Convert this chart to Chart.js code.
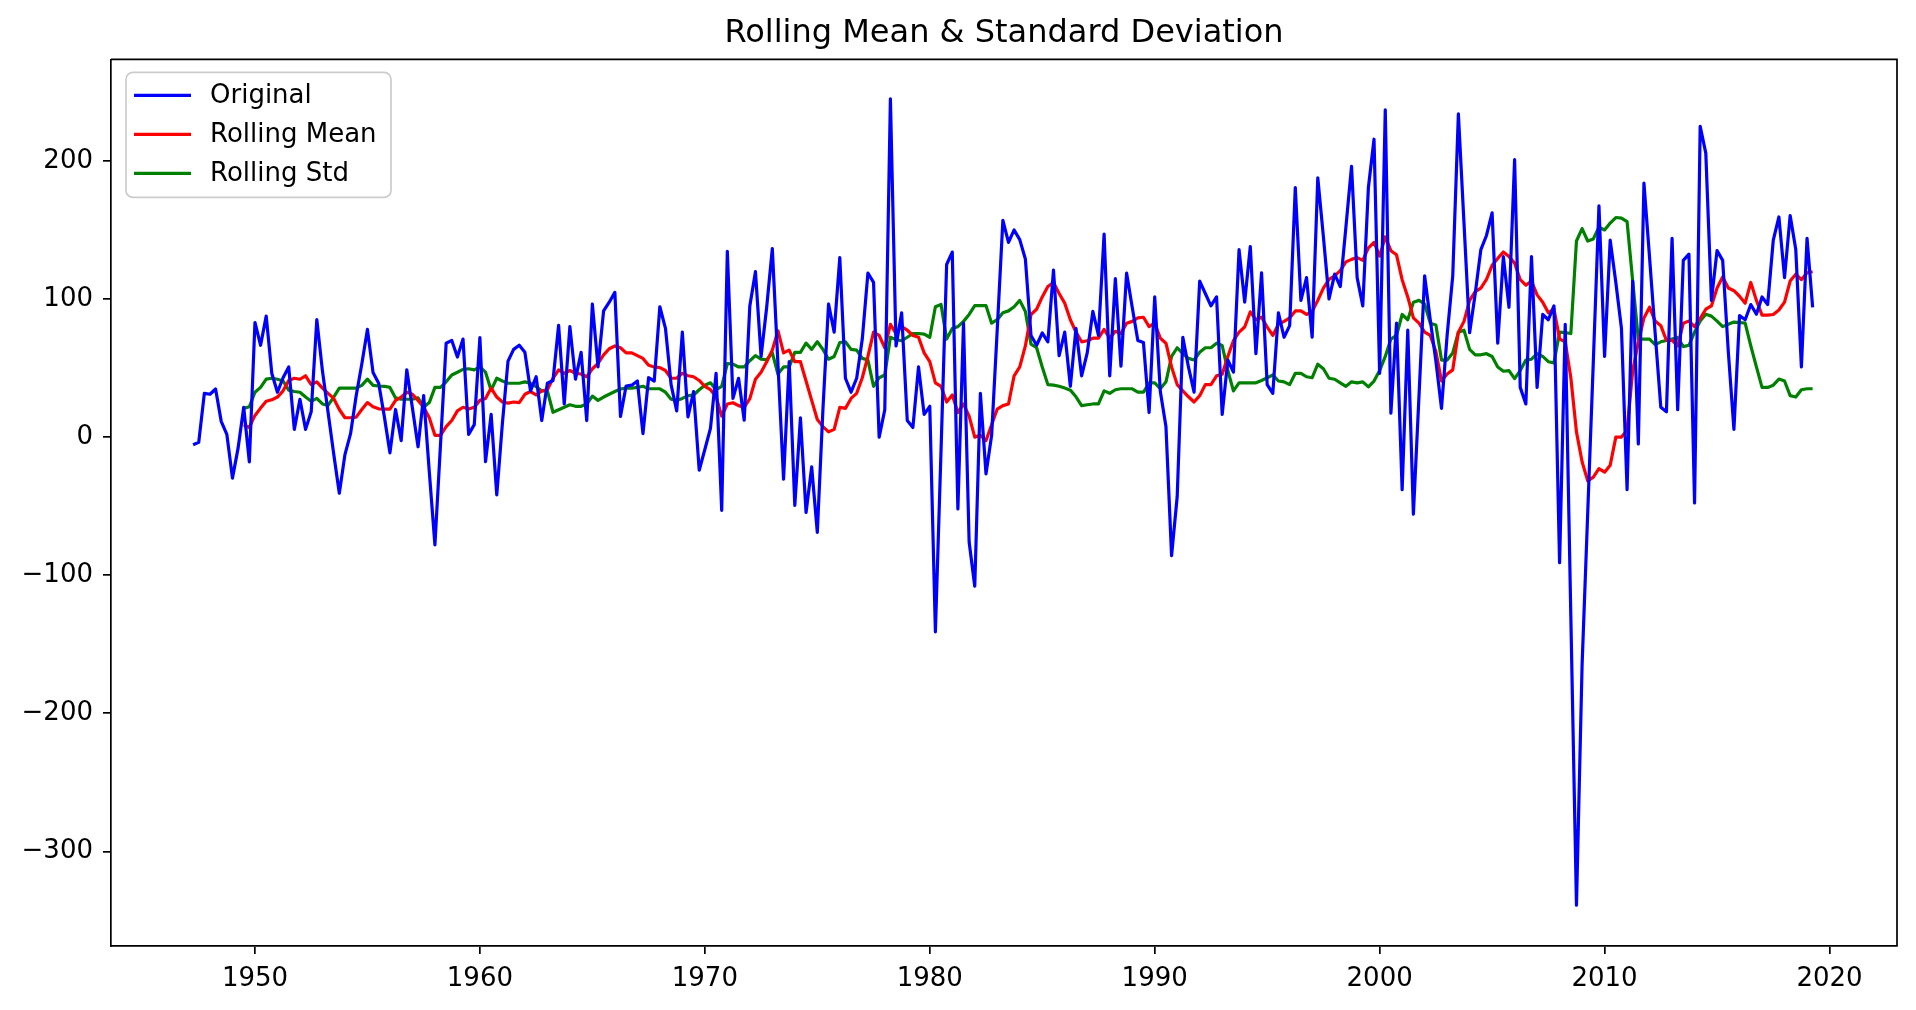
<!DOCTYPE html>
<html>
<head>
<meta charset="utf-8">
<script src="https://cdn.jsdelivr.net/npm/chart.js@4.4.1/dist/chart.umd.min.js"></script>
<style>
html,body{margin:0;padding:0;background:#fff;overflow:hidden;}
canvas{display:block;}
</style>
</head>
<body>
<canvas id="c" width="1916" height="1010"></canvas>
<script>
// Quarterly series, first quarter 1947.25, step a quarter of a year
const START_YEAR = 1947.25;
const STEP = 0.25;
const ROLL_START_INDEX = 9;

const original = [
-5.6,-3.8,31.7,31,34.8,11.4,2,-29.7,-8,21.6,
-18,83,66.5,87.6,46,32.5,43,50.8,5.6,27.4,
5.6,18.3,85,48,18,-12,-40.6,-12.7,2.5,30,
53,78,46.7,39,15,-11.4,20,-2.5,48.7,21,
-7,30,-25,-78,-5,68,70,58,71,2,
9,72,-17.8,16.5,-41.9,10,55,63.5,66.5,61.4,
33.5,43.7,12,39,41,81,24,80,42,61.4,
12,96.4,50.8,91.4,97.7,104.8,15,37,37.6,40.6,
2.5,43,40.6,94.4,78.7,38,19,76,14.7,33,
-24,-9,6.3,46.2,-53,134.5,28,42.6,12.2,95,
119.8,58.4,94,136.5,53,-30.5,54.6,-49.5,14,-54.6,
-21.6,-69,20,96.4,76,130,42.6,32.5,42.6,71,
118.8,112,0,19.8,245,66,90,12,7,50.8,
16.5,22.3,-141,-10,125,134,-52,82.5,-76,-108,
31.7,-26.6,1.3,78,157,141,150,143,129,73.6,
66.5,75.4,69,121,59,76,36.8,78.7,44.4,61,
91,73.6,147,44.4,114.7,51.3,118.8,94,70,68.5,
17.8,101.5,33,7.6,-85.8,-43,72.3,50.8,32.5,113,
104,95,101.5,16.5,55.8,47,135.8,97.7,138,60.4,
119,38,31.7,90,72.3,80.7,180.7,99,115.5,72.3,
187.8,145,100,118,109,152,196,115.5,95,180.7,
215.7,46.2,237,17.3,82.5,-38,77.4,-55.8,30,116.8,
85,55,20.8,73.6,116.8,234,155,75.6,104,135.8,
146,162.4,68,130.7,94,201,36,24,130.7,36,
88.8,85,95,-91,81.7,-130,-339,-165,-55,55,
167.5,58.4,142.6,112,78.7,-38,113,-5,184,130,
75,21.6,18.3,144,19.8,128,132.5,-47.7,225,205.6,
99,135,128,62,5.6,88,85,96,89,101.5,
96,142.6,159.4,115.5,160.4,135.8,50.8,144,94
];

const rollingMean = [
8.9,7,15.7,21,26,27,29,33.5,41,42.6,
41.9,44.4,38,40,35.5,31.7,28,20,14,14,
14.5,20,25,22,20.5,20.3,20.3,26.6,29,32.5,
31,26.6,21.6,14,1.3,1.3,7.6,12,19,21.6,
20.3,21.6,26.6,28,35.5,29,25.4,24.6,25.4,25,
31,33,30.5,33.5,34.3,42.6,48.7,46.2,48.2,46.2,
45.7,43.7,49.5,53.3,59.6,64,66,64.7,61,61,
59,57,52,50.8,50.3,48.2,42.6,42.6,46.2,44.4,
43.7,41,36.8,34.3,29.2,15.2,24,24.9,22.8,21.6,
27.9,41.9,47,54.6,63,77,61,63,54.6,54.6,
40.6,26.6,12.7,7.6,3.8,5.6,21.6,20.8,28,31.7,
43,58.4,76,73.6,64.7,81.7,74.9,80,77.4,73.6,
72.3,61,54.6,39.3,36.8,25.4,30.5,17.8,24.1,15.2,
0,1.3,-2.5,8.9,20.3,22.8,24,44.4,50.8,66,
88.8,92.6,101.5,109,112,104,97,85,76,69,
69.8,71.6,71.6,78,71.6,76.6,75,82.5,83.8,86.3,
86.8,80,82.5,71.6,68,50.8,38,33.5,29.2,25.4,
30,38,38,44.4,45.5,58.4,69.8,76,79.7,90.7,
85,86.8,79.7,73.6,81.7,83.8,86.3,91.4,91.4,88.8,
90.9,99,107.9,114.2,116.8,120.6,126.9,128.7,130,128,
137,141,131,145,135,132,114,101.5,86.3,82.5,
76,73.6,62,40.6,45.7,48.7,76,83.8,99,105.3,
107.9,114.2,124.4,129.4,134,130.7,126,114,110,113,
103,97.7,90,92.6,71,69,43,3.8,-17.8,-31.7,
-29,-22.8,-25.4,-20.3,0,0,5,48.2,68.5,86.3,
94,84,80.7,70,70,66,82.5,84,80,86,
92.6,95,108,116,108,106,102,97,112,99,
88.3,88.3,88.8,92,97.7,113,118,114,119,119.7
];

const rollingStd = [
20.8,22,32.5,36,42,42.6,41.9,40.6,34,33,
32.5,29,26,28,24,23,29,35.5,35.5,35.5,
35.5,37.5,42,37.5,37,36.8,36,28.4,27.4,27.4,
27.4,28.4,21.6,25,36,36,40,45,47,49,
49.5,48.7,50.8,47,34,42.6,40.6,39,39,39,
40,39,36.5,33.5,33.5,18,19.8,21.6,23.4,22.3,
22.3,24,29.7,26.6,29,31,33,34.8,35.5,35.5,
36,36.8,35,35,35,32.5,27.4,26.6,28,30,
30.5,34.3,37.6,39.3,34.3,36.8,53.3,52.8,50.8,50.8,
55.3,59,56.4,56,61,45.7,50.8,50.8,61.4,61.4,
68,63.5,69,63.5,56.4,58.4,68.5,69,63.5,63,
57,55.8,36.8,43,45,72.3,70.6,69.8,72.3,75,
75,74.6,72.3,94.4,96,71,78.7,80,83.8,88.8,
95.2,95.2,95.2,82.5,85,90,91.4,94.4,99,91,
67.3,64.7,50.8,38,37.6,36.8,35.5,34,29.2,22.8,
23.4,24,24,33.5,31.7,34.3,35,35,35,32.5,
32.5,39.3,39.3,35,40,58.4,64.7,60.4,57,55.8,
61.4,64.7,64.7,68,66.3,48.2,33.5,39.3,39.3,39.3,
39.3,41,43,45,40.6,40,38,46.2,46.2,43.7,
43,52.8,49.5,42.6,41.9,39.3,36.8,40,39.3,40,
36.4,40.6,48.2,58.4,71,73.6,88.8,85,97.7,99,
96.4,82.5,81.2,55.8,55.8,60.9,76,77.4,63.5,59.6,
59.6,60.4,58.4,50.8,47.7,48.2,42.3,48.2,55.8,56.4,
60.4,58.4,54.6,53.8,76,75.6,75,142,151,142,
143.5,152,150,155,159,158.6,156,113,71,71,
71,67,69,70,71,72,65.5,66.5,76,84,
89,87.6,84,80,81.7,83.3,83,82.5,66,50.8,
36,36,37.6,42,40.6,30,29,34.3,35,35
];

const xTicks = [1950,1960,1970,1980,1990,2000,2010,2020];
const yTicks = [-300,-200,-100,0,100,200];
const seriesLabels = ['Original','Rolling Mean','Rolling Std'];
const seriesColors = ['#0000ff','#ff0000','#008000'];
const titleText = 'Rolling Mean & Standard Deviation';

function toPoints(arr, offset){
  return arr.map((v,i)=>({x: START_YEAR + (offset+i)*STEP, y: v}));
}

const FONT = 'DejaVu Sans';

const framePlugin = {
  id:'frame',
  afterDatasetsDraw(chart){
    const a = chart.chartArea, c = chart.ctx;
    c.save();
    c.strokeStyle = '#000';
    c.lineWidth = 1.7;
    c.beginPath();
    c.moveTo(a.left, a.top); c.lineTo(a.right, a.top); c.lineTo(a.right, a.bottom);
    c.stroke();
    c.restore();
  }
};

const legendPlugin = {
  id:'mplLegend',
  afterDraw(chart){
    const a = chart.chartArea, c = chart.ctx;
    const x0 = a.left + 15, y0 = a.top + 13, w = 265, h = 125, r = 7;
    c.save();
    c.beginPath();
    c.moveTo(x0+r,y0); c.lineTo(x0+w-r,y0); c.arcTo(x0+w,y0,x0+w,y0+r,r);
    c.lineTo(x0+w,y0+h-r); c.arcTo(x0+w,y0+h,x0+w-r,y0+h,r);
    c.lineTo(x0+r,y0+h); c.arcTo(x0,y0+h,x0,y0+h-r,r);
    c.lineTo(x0,y0+r); c.arcTo(x0,y0,x0+r,y0,r);
    c.closePath();
    c.fillStyle = 'rgba(255,255,255,0.8)';
    c.fill();
    c.strokeStyle = '#cccccc';
    c.lineWidth = 1.7;
    c.stroke();
    c.font = '26px "' + FONT + '"';
    c.textBaseline = 'middle';
    c.textAlign = 'left';
    chart.data.datasets.forEach((ds,i)=>{
      const yy = y0 + 23 + i*39;
      c.strokeStyle = ds.borderColor;
      c.lineWidth = 3.2;
      c.beginPath(); c.moveTo(x0+8, yy); c.lineTo(x0+65, yy); c.stroke();
      c.fillStyle = '#000';
      c.fillText(ds.label, x0+84, yy+1);
    });
    c.restore();
  }
};

const tickFont = {family: FONT, size: 26};

new Chart(document.getElementById('c').getContext('2d'), {
  type:'line',
  data:{
    datasets:[
      {label:seriesLabels[0], data:toPoints(original,0), borderColor:seriesColors[0]},
      {label:seriesLabels[1], data:toPoints(rollingMean,ROLL_START_INDEX), borderColor:seriesColors[1]},
      {label:seriesLabels[2], data:toPoints(rollingStd,ROLL_START_INDEX), borderColor:seriesColors[2]}
    ].map(d=>Object.assign(d,{borderWidth:3.2, pointRadius:0, pointHoverRadius:0, fill:false, tension:0, borderJoinStyle:'round', borderCapStyle:'butt'}))
  },
  options:{
    responsive:false,
    animation:false,
    devicePixelRatio:1,
    events:[],
    layout:{padding:{top:0,right:19,bottom:0,left:0}},
    plugins:{
      legend:{display:false},
      tooltip:{enabled:false},
      title:{display:true, text:titleText, color:'#000', fullSize:false,
        font:{family:FONT, size:32, weight:'normal', lineHeight:1.2},
        padding:{top:14,bottom:7}}
    },
    scales:{
      x:{
        type:'linear', min:1943.6, max:2023.0,
        afterBuildTicks(s){ s.ticks = xTicks.map(v=>({value:v})); },
        afterFit(s){ s.height = 64; },
        ticks:{color:'#000', font:tickFont, padding:10, maxRotation:0, autoSkip:false,
          callback:(v)=>String(v)},
        grid:{display:true, drawOnChartArea:false, drawTicks:true, tickLength:8, color:'#000', lineWidth:1.7},
        border:{display:true, color:'#000', width:1.7}
      },
      y:{
        type:'linear', min:-368.5, max:273.5,
        afterBuildTicks(s){ s.ticks = yTicks.map(v=>({value:v})); },
        afterFit(s){ s.width = 111; },
        ticks:{color:'#000', font:tickFont, padding:10, autoSkip:false,
          callback:(v)=>String(v).replace('-','\u2212')},
        grid:{display:true, drawOnChartArea:false, drawTicks:true, tickLength:8, color:'#000', lineWidth:1.7},
        border:{display:true, color:'#000', width:1.7}
      }
    }
  },
  plugins:[framePlugin, legendPlugin]
});
</script>
</body>
</html>
